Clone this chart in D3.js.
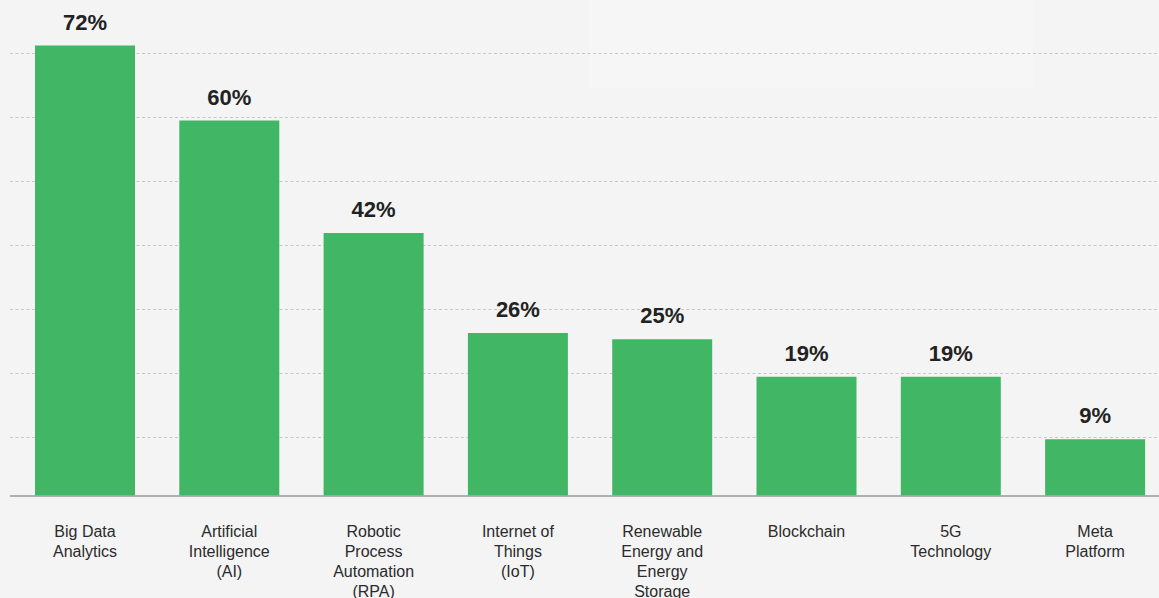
<!DOCTYPE html>
<html>
<head>
<meta charset="utf-8">
<script src="https://cdn.jsdelivr.net/npm/d3@7"></script>
<style>
  html, body { margin: 0; padding: 0; background: #f4f4f4; }
  svg { display: block; }
</style>
</head>
<body>
<svg id="chart" width="1159" height="598"></svg>
<script>
const categories = [
  ["Big Data", "Analytics"],
  ["Artificial", "Intelligence", "(AI)"],
  ["Robotic", "Process", "Automation", "(RPA)"],
  ["Internet of", "Things", "(IoT)"],
  ["Renewable", "Energy and", "Energy", "Storage"],
  ["Blockchain"],
  ["5G", "Technology"],
  ["Meta", "Platform"]
];
const values = [72, 60, 42, 26, 25, 19, 19, 9];
const valueLabels = ["72%", "60%", "42%", "26%", "25%", "19%", "19%", "9%"];
const gridTicks = [10, 20, 30, 40, 50, 60, 70];

const W = 1159, H = 598;
const svg = d3.select("#chart");

svg.append("rect").attr("width", W).attr("height", H).attr("fill", "#f4f4f4");
// faint panel in the top area
svg.append("rect").attr("x", 589).attr("y", 0).attr("width", 444).attr("height", 88).attr("fill", "#f6f6f6");

const idx = d3.range(values.length);
const x = d3.scaleBand().domain(idx).range([12.85, 1167.25]).paddingInner(0.307).paddingOuter(0.1535);
const y = d3.scaleLinear().domain([0, 72]).range([495.5, 45.5]);
const gridY = d3.scaleLinear().domain([0, 70]).range([501, 53]);

// gridlines
svg.append("g").selectAll("line").data(gridTicks).join("line")
  .attr("x1", 10).attr("x2", W)
  .attr("y1", d => gridY(d) + 0.5).attr("y2", d => gridY(d) + 0.5)
  .attr("stroke", "#c9c9c9").attr("stroke-width", 1)
  .attr("stroke-dasharray", "3,2.5");

// bars
svg.append("g").selectAll("rect").data(values).join("rect")
  .attr("x", (d, i) => x(i))
  .attr("width", x.bandwidth())
  .attr("y", d => y(d))
  .attr("height", d => y(0) - y(d))
  .attr("fill", "#41b766");

// baseline
svg.append("line").attr("x1", 10).attr("x2", W).attr("y1", y(0) + 0.5).attr("y2", y(0) + 0.5)
  .attr("stroke", "#9a9a9a").attr("stroke-width", 1.5);

// value labels
svg.append("g").selectAll("text").data(values).join("text")
  .attr("x", (d, i) => x(i) + x.bandwidth() / 2)
  .attr("y", d => y(d) - 16)
  .attr("text-anchor", "middle")
  .attr("font-family", "'Liberation Sans', Arial, Helvetica, sans-serif")
  .attr("font-weight", "bold")
  .attr("font-size", 22)
  .attr("fill", "#222")
  .text((d, i) => valueLabels[i]);

// category labels
const cat = svg.append("g").selectAll("text").data(categories).join("text")
  .attr("text-anchor", "middle")
  .attr("font-family", "'Liberation Sans', Arial, Helvetica, sans-serif")
  .attr("font-size", 16)
  .attr("fill", "#2b2b2b");
cat.each(function(lines, i) {
  d3.select(this).selectAll("tspan").data(lines).join("tspan")
    .attr("x", x(i) + x.bandwidth() / 2)
    .attr("y", (l, j) => 537 + j * 20)
    .text(l => l);
});
</script>
</body>
</html>
